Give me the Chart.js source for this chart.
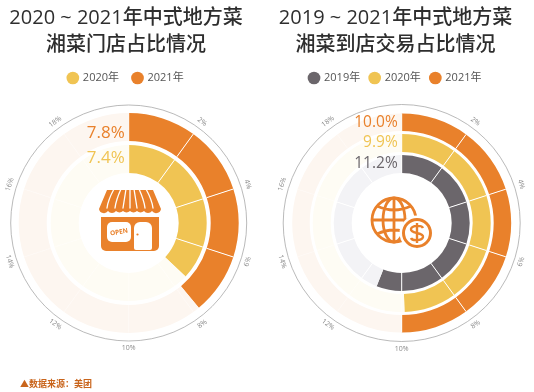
<!DOCTYPE html>
<html lang="zh">
<head>
<meta charset="utf-8">
<style>
html,body{margin:0;padding:0;background:#fff;width:534px;height:392px;overflow:hidden}
canvas{position:absolute;top:0}
svg{position:absolute}
#src{position:absolute;left:20px;top:377px;font:bold 9px "Noto Sans CJK SC","Noto Sans",sans-serif;color:#C9651C;white-space:nowrap}
</style>
<script src="https://cdn.jsdelivr.net/npm/chart.js@4"></script>
</head>
<body>
<canvas id="c1" width="267" height="392" style="left:0"></canvas>
<canvas id="c2" width="267" height="392" style="left:267px"></canvas>

<svg style="left:90px;top:180px" width="80" height="80" viewBox="0 0 80 80">
  <path d="M17 10H63L71 29a5 5 0 0 1-9 2a5 5 0 0 1-8 0a5 5 0 0 1-7 0a5 5 0 0 1-7 0a5 5 0 0 1-7 0a5 5 0 0 1-7 0a5 5 0 0 1-8 0a5 5 0 0 1-9-2Z" fill="#E9812B"/>
  <g stroke="#fff" stroke-width="1.3" stroke-linecap="round" fill="none">
    <path d="M24 9Q18 20 17 28M31 9Q26 20 25 28M36 9L33 28M40 9V28M44 9L47 28M49 9Q54 20 55 28M56 9Q62 20 63 28"/>
  </g>
  <path d="M11 37H69V66a5 5 0 0 1-5 5H16a5 5 0 0 1-5-5Z" fill="#E9812B"/>
  <rect x="17" y="42" width="24" height="20" rx="5" fill="#fff"/>
  <path d="M44 68V48a6 6 0 0 1 6-6h6a6 6 0 0 1 6 6V68a2 2 0 0 1-2 2H46a2 2 0 0 1-2-2Z" fill="#fff"/>
  <circle cx="47.5" cy="54.5" r="1.1" fill="#E9812B"/>
  <text x="29" y="54" font-family="Open Sans,sans-serif" font-size="6.5" font-weight="700" fill="#E9812B" text-anchor="middle" transform="rotate(-10 29 52)">OPEN</text>
</svg>

<svg style="left:362px;top:185px" width="80" height="80" viewBox="0 0 80 80">
  <g fill="none" stroke="#E9812B" stroke-width="2.8">
    <circle cx="32" cy="35" r="22"/>
    <ellipse cx="32" cy="35" rx="11" ry="22"/>
    <path d="M32 13V57M10 35H54M15 21Q32 29 49 21M15 49Q32 41 49 49"/>
  </g>
  <circle cx="55" cy="48" r="17.5" fill="#fff"/>
  <g fill="none" stroke="#E9812B" stroke-width="3">
    <circle cx="55" cy="48" r="13.5"/>
    <path d="M61 43c-1-3-11-3-12 1c-1 5 13 3 12 8c-1 4-11 4-12 1M55 38V58" stroke-width="2.4"/>
  </g>
</svg>

<div id="src">▲数据来源：美团</div>

<script>
const titleStore = ["2020 ~ 2021年中式地方菜", "湘菜门店占比情况"];
const titleTrade = ["2019 ~ 2021年中式地方菜", "湘菜到店交易占比情况"];

const tickLabels = [2, 4, 6, 8, 10, 12, 14, 16, 18];
const axisMax = 20;

const storeShare2020 = 7.4;
const storeShare2021 = 7.8;
const storeSegments2020 = [2, 2, 2, 1.4, 0.6, 2, 2, 2, 2, 2, 2];
const storeSegments2021 = [2, 2, 2, 1.8, 0.2, 2, 2, 2, 2, 2, 2];

const tradeShare2019 = 11.2;
const tradeShare2020 = 9.9;
const tradeShare2021 = 10.0;
const tradeSegments2019 = [2, 2, 2, 2, 2, 1.2, 0.8, 2, 2, 2, 2];
const tradeSegments2020 = [2, 2, 2, 2, 1.9, 0.1, 2, 2, 2, 2, 2];
const tradeSegments2021 = [2, 2, 2, 2, 2, 2, 2, 2, 2, 2];

const ORANGE = "#E9812B", YELLOW = "#F0C453", GRAY = "#6B666B";
const PALE_ORANGE = "#FDF6F0", PALE_YELLOW = "#FEFCF4", PALE_GRAY = "#F3F3F6";
const FONT = '"Open Sans","Noto Sans CJK SC",sans-serif';

function ring(label, segments, share, color, pale, weight, trackLine) {
  let sum = 0;
  const colors = segments.map(s => { const on = sum < share - 1e-6; sum += s; return on ? color : pale; });
  return { label, data: segments, backgroundColor: colors, borderWidth: 0, weight, share, labelColor: color, trackLine };
}
function gap(weight) {
  return { data: [axisMax], backgroundColor: "rgba(0,0,0,0)", borderWidth: 0, weight, spacer: true };
}
function spacerBox(position, size, weight) {
  return {
    position, weight, fullSize: false, width: 0, height: 0, options: {},
    isHorizontal() { return position === "top" || position === "bottom"; },
    update(w, h) { if (this.isHorizontal()) { this.width = w; this.height = size; } else { this.width = size; this.height = h; } },
    draw() {}
  };
}

const ringDecor = {
  id: "ringDecor",
  afterDatasetsDraw(chart, args, opts) {
    const ctx = chart.ctx;
    const metas = chart.data.datasets.map((d, i) => [d, chart.getDatasetMeta(i).data[0], chart.getDatasetMeta(i).data]);
    const outer = metas[0][1];
    const cx = outer.x, cy = outer.y, R = outer.outerRadius;
    // white separators on the 2% grid
    ctx.save();
    ctx.lineWidth = 1;
    metas.forEach(([d, el, all]) => {
      if (d.spacer) return;
      let sum = 0;
      all.forEach((arc, i) => {
        const startedFilled = sum < d.share - 1e-6;
        sum += d.data[i];
        if (Math.abs(sum / 2 - Math.round(sum / 2)) > 1e-6) return;
        ctx.strokeStyle = startedFilled ? "#fff" : d.trackLine;
        const a = arc.endAngle;
        ctx.beginPath();
        ctx.moveTo(cx + Math.cos(a) * arc.innerRadius, cy + Math.sin(a) * arc.innerRadius);
        ctx.lineTo(cx + Math.cos(a) * arc.outerRadius, cy + Math.sin(a) * arc.outerRadius);
        ctx.stroke();
      });
    });
    ctx.restore();
    ctx.save();
    ctx.strokeStyle = "#A8A8A8";
    ctx.lineWidth = 0.8;
    ctx.beginPath();
    ctx.arc(cx, cy, R + opts.axisGap, 0, Math.PI * 2);
    ctx.stroke();
    ctx.fillStyle = "#8A8A8A";
    ctx.font = "7px " + FONT;
    ctx.textAlign = "center";
    ctx.textBaseline = "middle";
    tickLabels.forEach(t => {
      const a = t / axisMax * Math.PI * 2;
      ctx.save();
      ctx.translate(cx + Math.sin(a) * (R + opts.axisGap + 7), cy - Math.cos(a) * (R + opts.axisGap + 7));
      ctx.rotate(a > Math.PI / 2 && a < Math.PI * 1.5 ? a - Math.PI : a);
      ctx.fillText(t + "%", 0, 0);
      ctx.restore();
    });
    ctx.restore();
    ctx.save();
    ctx.textAlign = "right";
    ctx.textBaseline = "middle";
    ctx.font = opts.valueFont + "px " + FONT;
    let idx = 0;
    metas.forEach(([d, el]) => {
      if (d.spacer) return;
      ctx.fillStyle = d.labelColor;
      const y = cy - (el.outerRadius + el.innerRadius) / 2 + (opts.valueShift[idx] || 0);
      ctx.fillText(d.share.toFixed(1) + "%", cx - 4, y);
      idx++;
    });
    ctx.restore();
  }
};

function makeChart(id, title, datasets, legendItems, cfg) {
  return new Chart(document.getElementById(id), {
    type: "doughnut",
    data: { labels: [], datasets },
    plugins: [ringDecor, {
      id: "spacers",
      beforeInit(chart) {
        Chart.layouts.addBox(chart, spacerBox("left", cfg.leftShim, 5));
        Chart.layouts.addBox(chart, spacerBox("top", cfg.topShim, -5));
      }
    }],
    options: {
      responsive: false,
      animation: false,
      cutout: 50,
      layout: { padding: { left: 0, right: cfg.padRight, top: 0, bottom: cfg.padBottom } },
      plugins: {
        tooltip: { enabled: false },
        title: {
          display: true, text: title, color: "#2E2E2E", padding: { top: 4.5, bottom: cfg.titleBottom },
          font: { family: FONT, size: 20, weight: "500", lineHeight: 1.35 }
        },
        legend: {
          display: true, position: "top",
          labels: {
            usePointStyle: true, pointStyle: "circle", boxWidth: 9, boxHeight: 9, padding: cfg.legendPad,
            color: "#555", font: { family: FONT, size: 11 },
            generateLabels: () => legendItems.map(([text, c]) => ({ text, fillStyle: c, strokeStyle: c, lineWidth: 0, pointStyle: "circle", hidden: false, fontColor: "#555" }))
          }
        },
        ringDecor: cfg.decor
      }
    }
  });
}

makeChart("c1", titleStore, [
  ring("2021年", storeSegments2021, storeShare2021, ORANGE, PALE_ORANGE, 28, "#FEF9F5"),
  gap(4),
  ring("2020年", storeSegments2020, storeShare2020, YELLOW, PALE_YELLOW, 28, "#FFFDF8")
], [["2020年", YELLOW], ["2021年", ORANGE]], {
  leftShim: 5.4, topShim: 19.5, padRight: 15, padBottom: 59, titleBottom: 0, legendPad: 14,
  decor: { axisGap: 8, valueFont: 17, valueShift: [6, -1] }
});

makeChart("c2", titleTrade, [
  ring("2021年", tradeSegments2021, tradeShare2021, ORANGE, PALE_ORANGE, 17.5, "#FEF9F5"),
  gap(3),
  ring("2020年", tradeSegments2020, tradeShare2020, YELLOW, PALE_YELLOW, 18, "#FFFDF8"),
  gap(3),
  ring("2019年", tradeSegments2019, tradeShare2019, GRAY, PALE_GRAY, 18, "#fff")
], [["2019年", GRAY], ["2020年", YELLOW], ["2021年", ORANGE]], {
  leftShim: 12.4, topShim: 20, padRight: 10, padBottom: 59.5, titleBottom: 4, legendPad: 10,
  decor: { axisGap: 9, valueFont: 15.5, valueShift: [0, 0, 0] }
});
</script>
</body>
</html>
